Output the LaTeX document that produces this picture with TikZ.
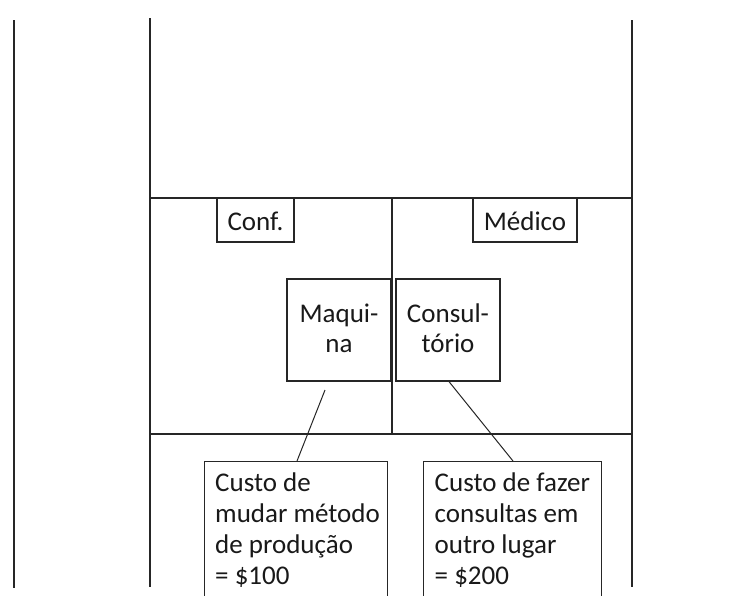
\documentclass[tikz,border=0pt]{standalone}
\usepackage{fontspec}
\setmainfont{Carlito}
\tikzset{
  ln/.style={line width=1.2pt, draw=black!85},
  bx/.style={draw=black!85, line width=1.2pt, inner sep=0pt, rectangle},
  txt/.style={font=\fontsize{27}{31}\selectfont, inner sep=0pt, text=black!90},
  midtxt/.style={txt, align=center, font=\fontsize{27}{30}\selectfont},
}
\begin{document}
\begin{tikzpicture}[x=1pt,y=-1pt]
\useasboundingbox (0,0) rectangle (754,595);
\clip (0,0) rectangle (754,595);
% structure lines
\draw[ln] (14,20) -- (14,588);
\draw[ln] (150,18) -- (150,587);
\draw[ln] (632,20) -- (632,587);
\draw[ln] (150,198) -- (632,198);
\draw[ln] (150,434) -- (632,434);
\draw[ln] (392,198) -- (392,434);
% top labels
\node[bx, minimum width=77pt, minimum height=44pt] (conf) at (255.5,220) {};
\node[txt] (conft) at (255.5,221) {Conf.};
\node[bx, minimum width=104pt, minimum height=44pt] (med) at (525,220) {};
\node[txt] (medt) at (525,221) {Médico};
% middle boxes
\node[bx, minimum width=104pt, minimum height=102pt] (maq) at (339,330) {};
\node[midtxt] (maqt) at (339,328) {Maqui-\\na};
\node[bx, minimum width=104pt, minimum height=102pt] (cons) at (448,330) {};
\node[midtxt] (const) at (448,328) {Consul-\\tório};
% bottom boxes
\node[bx, minimum width=183pt, minimum height=160pt, anchor=north west] (c1) at (204,461) {};
\node[txt, align=left, anchor=north west] (c1t) at (215,472.5) {Custo de\\mudar método\\de produção\\= \$100};
\node[bx, minimum width=178pt, minimum height=160pt, anchor=north west] (c2) at (423,461) {};
\node[txt, align=left, anchor=north west] (c2t) at (434.5,472.5) {Custo de fazer\\consultas em\\outro lugar\\= \$200};
% connectors
\coordinate (m1) at (325,390);
\draw[ln, line width=1pt] (m1) -- (c1.north west -| 297,461);
\draw[ln, line width=1pt] (cons.south -| 449,0) -- (c2.north -| 513,0);
\end{tikzpicture}
\end{document}
